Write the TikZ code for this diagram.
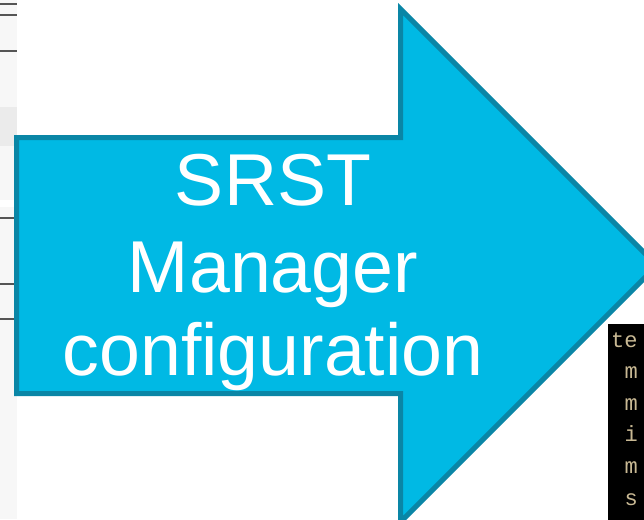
\documentclass[tikz,border=0pt]{standalone}
\usepackage{fontspec}
\setmainfont{Liberation Sans}
\newfontfamily\termfont{Liberation Mono}
\definecolor{arrowfill}{HTML}{00B9E4}
\definecolor{arrowedge}{HTML}{0A86A6}
\definecolor{stripgrey}{HTML}{F7F7F7}
\definecolor{bandgrey}{HTML}{EBEBEB}
\definecolor{linegrey}{HTML}{555555}
\definecolor{termtext}{HTML}{C9B994}
\tikzset{
  rule/.style={draw=linegrey, line width=1.3pt},
  bigarrow/.style={fill=arrowfill, draw=arrowedge, line width=5pt, line join=miter},
  arrowtext/.style={text=white, anchor=base, inner sep=0pt, font=\fontsize{73.5}{85}\selectfont},
  termline/.style={text=termtext, anchor=base west, inner sep=0pt, font=\termfont\fontsize{22}{26}\selectfont},
}
\begin{document}
\begin{tikzpicture}[x=1pt, y=-1pt]
\useasboundingbox (0,0) rectangle (644,519);
% left strip of the background window
\fill[stripgrey] (0,0) rectangle (17,519);
\fill[bandgrey] (0,107) rectangle (17,146);
\fill[white] (0,200) rectangle (14,207);
\coordinate (l1a) at (0,4);   \coordinate (l1b) at (17,4);
\coordinate (l2a) at (0,15);  \coordinate (l2b) at (17,15);
\coordinate (l3a) at (0,51);  \coordinate (l3b) at (17,51);
\coordinate (l4a) at (0,218); \coordinate (l4b) at (15,218);
\coordinate (l5a) at (0,284); \coordinate (l5b) at (15,284);
\coordinate (l6a) at (0,319); \coordinate (l6b) at (15,319);
\draw[rule] (l1a) -- (l1b);
\draw[rule] (l2a) -- (l2b);
\draw[rule] (l3a) -- (l3b);
\draw[rule] (l4a) -- (l4b);
\draw[rule] (l5a) -- (l5b);
\draw[rule] (l6a) -- (l6b);
% terminal snippet
\begin{scope}
\clip (0,0) rectangle (644,519);
\fill[black] (608,324) rectangle (650,525);
\end{scope}
\node[termline] (t1) at (611,347) {te};
\node[termline] (t2) at (624.5,378.6) {m};
\node[termline] (t3) at (624.5,410.2) {m};
\node[termline] (t4) at (624.5,441.8) {i};
\node[termline] (t5) at (624.5,473.4) {m};
\node[termline] (t6) at (624.5,505) {s};
% big block arrow
\begin{scope}
\clip (0,0) rectangle (644,519);
\draw[bigarrow] (16.5,137.5) -- (400.5,137.5) -- (400.5,9) -- (657,265.5)
  -- (400.5,522) -- (400.5,393.5) -- (16.5,393.5) -- cycle;
\end{scope}
\node[arrowtext] (srst) at (273,205) {SRST};
\node[arrowtext] (mgr) at (273,292) {Manager};
\node[arrowtext] (cfg) at (273,375) {configuration};
\end{tikzpicture}
\end{document}
